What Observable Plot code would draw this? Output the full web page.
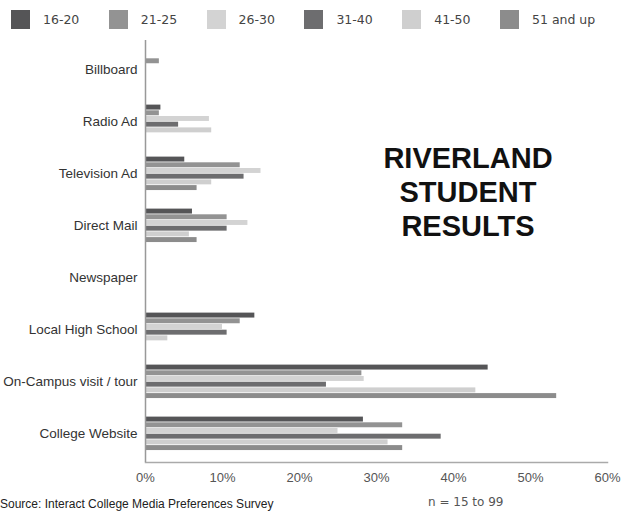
<!DOCTYPE html>
<html>
<head>
<meta charset="utf-8">
<script src="https://cdn.jsdelivr.net/npm/d3@7"></script>
<script src="https://cdn.jsdelivr.net/npm/@observablehq/plot@0.6"></script>
<style>
  html, body { margin: 0; padding: 0; background: #fff; }
  #wrap { position: relative; width: 631px; height: 512px; overflow: hidden; font-family: "Liberation Sans", Arial, sans-serif; }
  #chart { position: absolute; left: 0; top: 0; }
  .lg { position: absolute; top: 10px; height: 19px; display: flex; align-items: center; }
  .sw { width: 19px; height: 19px; }
  .lt { position: absolute; left: 32px; top: 0; line-height: 19px; white-space: nowrap; font-family: "DejaVu Sans", Verdana, sans-serif; font-size: 12.5px; color: #444; }
  #title { position: absolute; left: 348px; width: 240px; top: 141px; text-align: center; font-family: "Liberation Sans", Arial, sans-serif; font-weight: bold; font-size: 29px; line-height: 34px; color: #111; }
  #source { position: absolute; left: 0px; top: 497px; font-size: 12px; color: #222; white-space: nowrap; }
  #n { position: absolute; left: 428px; top: 495px; font-family: "DejaVu Sans", Verdana, sans-serif; font-size: 12px; color: #555; white-space: nowrap; }
</style>
</head>
<body>
<div id="wrap">
  <div id="chart"></div>
  <div id="legend"></div>
  <div id="title">RIVERLAND<br>STUDENT<br>RESULTS</div>
  <div id="source">Source: Interact College Media Preferences Survey</div>
  <div id="n">n = 15 to 99</div>
</div>
<script>
const categories = ["Billboard", "Radio Ad", "Television Ad", "Direct Mail", "Newspaper", "Local High School", "On-Campus visit / tour", "College Website"];
const ageGroups = ["16-20", "21-25", "26-30", "31-40", "41-50", "51 and up"];
const ageColors = ["#555557", "#939393", "#d3d3d3", "#6d6d6f", "#cfcfcf", "#8c8c8c"];

// percent values per age group, in category order
const v16_20 = [0, 2.0, 5.1, 6.1, 0, 14.2, 44.5, 28.3];
const v21_25 = [1.8, 1.8, 12.3, 10.6, 0, 12.3, 28.1, 33.4];
const v26_30 = [0, 8.3, 15.0, 13.3, 0, 10.0, 28.4, 25.0];
const v31_40 = [0, 4.3, 12.8, 10.6, 0, 10.6, 23.5, 38.4];
const v41_50 = [0, 8.6, 8.6, 5.7, 0, 2.9, 42.9, 31.5];
const v51_up = [0, 0, 6.7, 6.7, 0, 0, 53.4, 33.4];
const xTicks = [0, 10, 20, 30, 40, 50, 60];

const seriesValues = [v16_20, v21_25, v26_30, v31_40, v41_50, v51_up];

// legend
const legend = document.getElementById("legend");
ageGroups.forEach((g, i) => {
  const d = document.createElement("div");
  d.className = "lg";
  d.style.left = (11 + i * 97.8) + "px";
  d.innerHTML = `<div class="sw" style="background:${ageColors[i]}"></div><div class="lt">${g}</div>`;
  legend.appendChild(d);
});

const marginTop = 40, marginBottom = 50, height = 512;
const band = (height - marginTop - marginBottom) / categories.length;
const barH = 5.7, firstOffset = 9.6;

const barMarks = seriesValues.map((vals, i) => {
  const rows = categories.map((c, j) => ({cat: c, value: vals[j], age: ageGroups[i]}));
  return Plot.barX(rows, {
    x: "value",
    y: "cat",
    fill: ageColors[i],
    insetTop: firstOffset + barH * i,
    insetBottom: band - firstOffset - barH * (i + 1)
  });
});

const chart = Plot.plot({
  width: 631,
  height,
  marginTop,
  marginBottom,
  marginLeft: 145,
  marginRight: 24,
  style: {fontFamily: "'Liberation Sans', Arial, sans-serif", background: "transparent"},
  x: {domain: [0, 60]},
  y: {domain: categories, padding: 0},
  marks: [
    ...barMarks,
    Plot.frame({anchor: "bottom", stroke: "#aaa", strokeWidth: 1.5}),
    Plot.ruleX([0], {stroke: "#999", strokeWidth: 1.5}),
    Plot.axisX({ticks: xTicks, tickSize: 0, tickPadding: 10, tickFormat: d => d + "%", fontSize: 13, color: "#555", label: null}),
    Plot.axisY({tickSize: 0, tickPadding: 8, fontSize: 13.5, color: "#333", label: null})
  ]
});
document.getElementById("chart").appendChild(chart);
</script>
</body>
</html>
